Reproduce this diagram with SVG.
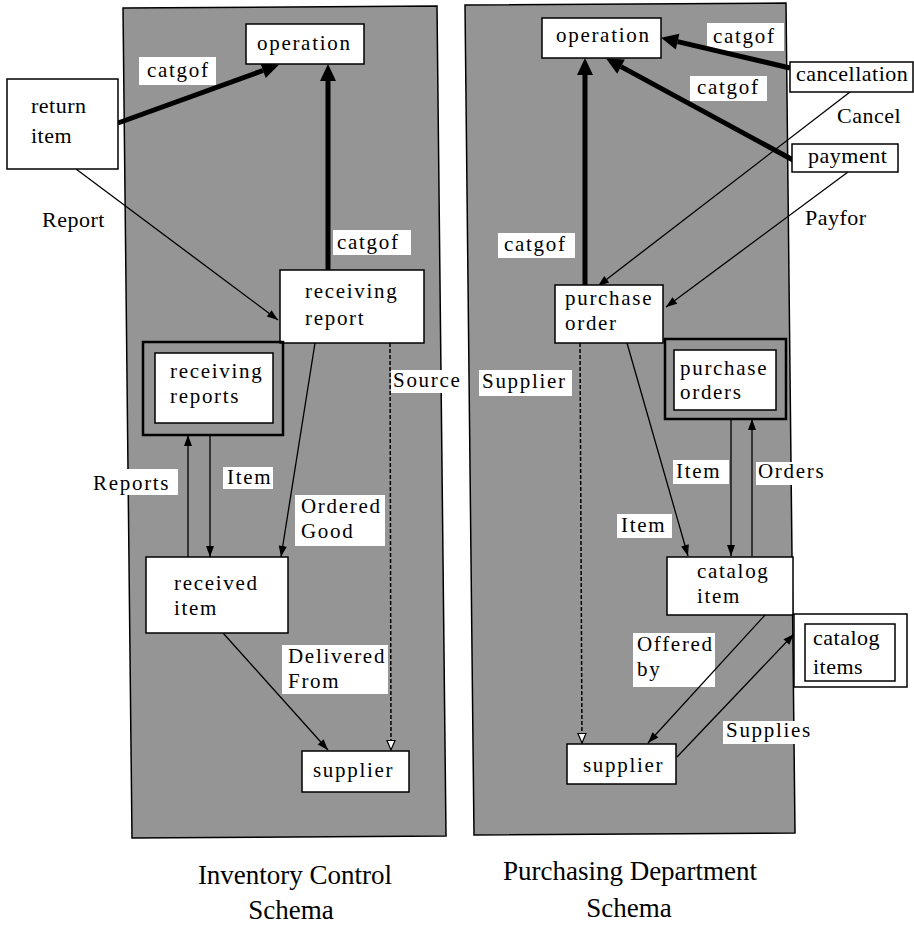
<svg xmlns="http://www.w3.org/2000/svg" width="914" height="925" viewBox="0 0 914 925">
<style>
.panel{fill:#959595;stroke:#000;stroke-width:1.5}
.box{fill:#fff;stroke:#000;stroke-width:1.5}
.outer{fill:none;stroke:#000;stroke-width:2.5}
.lbl{fill:#fff;stroke:none}
.n{font-family:"Liberation Serif",serif;font-size:21px;letter-spacing:1.7px;fill:#000}
.t{font-family:"Liberation Serif",serif;font-size:22px;letter-spacing:0.5px;fill:#000}
.cap{font-family:"Liberation Serif",serif;font-size:27px;fill:#000;text-anchor:middle}
.thick{stroke:#000;stroke-width:5;fill:none;marker-end:url(#hk)}
.thin{stroke:#000;stroke-width:1.3;fill:none;marker-end:url(#ht)}
.dash{stroke:#000;stroke-width:1.5;fill:none;stroke-dasharray:4 2;marker-end:url(#ho)}
</style>
<defs>
<marker id="hk" markerUnits="userSpaceOnUse" markerWidth="18" markerHeight="16" refX="0" refY="8" orient="auto" overflow="visible"><path d="M0,0 L17,8 L0,16 z" fill="#000"/></marker>
<marker id="ht" markerUnits="userSpaceOnUse" markerWidth="11" markerHeight="8" refX="11" refY="4" orient="auto" overflow="visible"><path d="M0,0 L11,4 L0,8 z" fill="#000"/></marker>
<marker id="ho" markerUnits="userSpaceOnUse" markerWidth="10" markerHeight="9" refX="10" refY="4.5" orient="auto" overflow="visible"><path d="M0.5,0.5 L10,4.5 L0.5,8.5 z" fill="#fff" stroke="#000" stroke-width="1.2"/></marker>
</defs>
<g id="panels">
<polygon class="panel" points="123,8 437,6 446,836 132,838"/>
<polygon class="panel" points="465,5 786,3 795,833 474,835"/>
</g>
<g id="labels">
<rect class="lbl" x="139" y="57" width="77" height="28"/><text class="n" x="147" y="77">catgof</text>
<text class="t" x="42" y="227">Report</text>
<rect class="lbl" x="333" y="230" width="78" height="25"/><text class="n" x="337" y="249">catgof</text>
<rect class="lbl" x="391" y="370" width="69" height="23"/><text class="n" x="393" y="387">Source</text>
<rect class="lbl" x="91" y="469" width="87" height="26"/><text class="n" x="93" y="490">Reports</text>
<rect class="lbl" x="223" y="467" width="50" height="22"/><text class="n" x="227" y="484">Item</text>
<rect class="lbl" x="295" y="495" width="90" height="51"/><text class="n" x="301" y="513">Ordered</text><text class="n" x="301" y="538">Good</text>
<rect class="lbl" x="282" y="645" width="106" height="49"/><text class="n" x="288" y="663">Delivered</text><text class="n" x="288" y="688">From</text>
<rect class="lbl" x="707" y="23" width="77" height="28"/><text class="n" x="713" y="43">catgof</text>
<rect class="lbl" x="690" y="76" width="77" height="25"/><text class="n" x="697" y="94">catgof</text>
<text class="t" x="837" y="123">Cancel</text>
<text class="t" x="805" y="225">Payfor</text>
<rect class="lbl" x="498" y="233" width="77" height="25"/><text class="n" x="504" y="251">catgof</text>
<rect class="lbl" x="479" y="370" width="93" height="26"/><text class="n" x="482" y="388">Supplier</text>
<rect class="lbl" x="673" y="460" width="56" height="24"/><text class="n" x="676" y="478">Item</text>
<rect class="lbl" x="756" y="462" width="70" height="23"/><text class="n" x="758" y="478">Orders</text>
<rect class="lbl" x="617" y="514" width="55" height="24"/><text class="n" x="621" y="532">Item</text>
<rect class="lbl" x="633" y="633" width="82" height="54"/><text class="n" x="637" y="651">Offered</text><text class="n" x="637" y="676">by</text>
<rect class="lbl" x="723" y="721" width="87" height="23"/><text class="n" x="726" y="737">Supplies</text>
</g>
<g id="connectors">
<line class="thick" x1="118" y1="123" x2="263" y2="70.5"/>
<line class="thick" x1="328" y1="270" x2="328" y2="81"/>
<line class="thin" x1="76" y1="169" x2="278" y2="320"/>
<line class="thin" x1="315" y1="343" x2="281" y2="557"/>
<line class="thin" x1="188" y1="557" x2="188" y2="435"/>
<line class="thin" x1="210" y1="435" x2="210" y2="557"/>
<line class="thin" x1="223" y1="633" x2="328" y2="750"/>
<line class="dash" x1="390" y1="343" x2="391" y2="750"/>
<line class="thick" x1="790" y1="68" x2="677.6" y2="41.6"/>
<line class="thick" x1="793" y1="160" x2="621" y2="66.6"/>
<line class="thick" x1="585" y1="285" x2="585" y2="75"/>
<line class="thin" x1="850" y1="92" x2="598" y2="286"/>
<line class="thin" x1="848" y1="172" x2="666" y2="307"/>
<line class="dash" x1="580" y1="343" x2="582" y2="743"/>
<line class="thin" x1="627" y1="343" x2="688" y2="556"/>
<line class="thin" x1="731" y1="419" x2="731" y2="556"/>
<line class="thin" x1="752" y1="556" x2="752" y2="419"/>
<line class="thin" x1="765" y1="615" x2="648" y2="743"/>
<line class="thin" x1="677" y1="757" x2="794" y2="634"/>
</g>
<g id="op_left"><rect class="box" x="246" y="24" width="118" height="40"/><text class="n" x="257" y="50">operation</text></g>
<g id="return_item"><rect class="box" x="7" y="79" width="111" height="90"/><text class="t" x="31" y="113">return</text><text class="t" x="31" y="143">item</text></g>
<g id="receiving_report"><rect class="box" x="280" y="270" width="144" height="73"/><text class="n" x="305" y="298">receiving</text><text class="n" x="305" y="325">report</text></g>
<g id="receiving_reports"><rect class="outer" x="143" y="342" width="140" height="93"/><rect class="box" x="155" y="353" width="118" height="70"/><text class="n" x="170" y="378">receiving</text><text class="n" x="170" y="403">reports</text></g>
<g id="received_item"><rect class="box" x="146" y="557" width="142" height="76"/><text class="n" x="174" y="590">received</text><text class="n" x="174" y="615">item</text></g>
<g id="supplier_left"><rect class="box" x="302" y="751" width="107" height="41"/><text class="n" x="313" y="777">supplier</text></g>
<g id="op_right"><rect class="box" x="542" y="18" width="119" height="40"/><text class="n" x="556" y="42">operation</text></g>
<g id="cancellation"><rect class="box" x="790" y="62" width="123" height="30"/><text class="t" x="796" y="81">cancellation</text></g>
<g id="payment"><rect class="box" x="792" y="144" width="106" height="28"/><text class="t" x="808" y="163">payment</text></g>
<g id="purchase_order"><rect class="box" x="555" y="285" width="108" height="58"/><text class="n" x="565" y="305">purchase</text><text class="n" x="565" y="330">order</text></g>
<g id="purchase_orders"><rect class="outer" x="665" y="339" width="121" height="80"/><rect class="box" x="674" y="350" width="102" height="60"/><text class="n" x="680" y="375">purchase</text><text class="n" x="680" y="399">orders</text></g>
<g id="catalog_item"><rect class="box" x="667" y="557" width="126" height="58"/><text class="n" x="697" y="578">catalog</text><text class="n" x="697" y="603">item</text></g>
<g id="catalog_items"><rect class="box" x="794" y="614" width="113" height="73"/><rect class="box" x="805" y="624" width="90" height="57"/><text class="t" x="813" y="645">catalog</text><text class="t" x="813" y="674">items</text></g>
<g id="supplier_right"><rect class="box" x="567" y="744" width="109" height="40"/><text class="n" x="583" y="772">supplier</text></g>
<g id="captions">
<text class="cap" x="295" y="884">Inventory Control</text>
<text class="cap" x="291" y="919">Schema</text>
<text class="cap" x="630" y="880">Purchasing Department</text>
<text class="cap" x="629" y="917">Schema</text>
</g>
</svg>
